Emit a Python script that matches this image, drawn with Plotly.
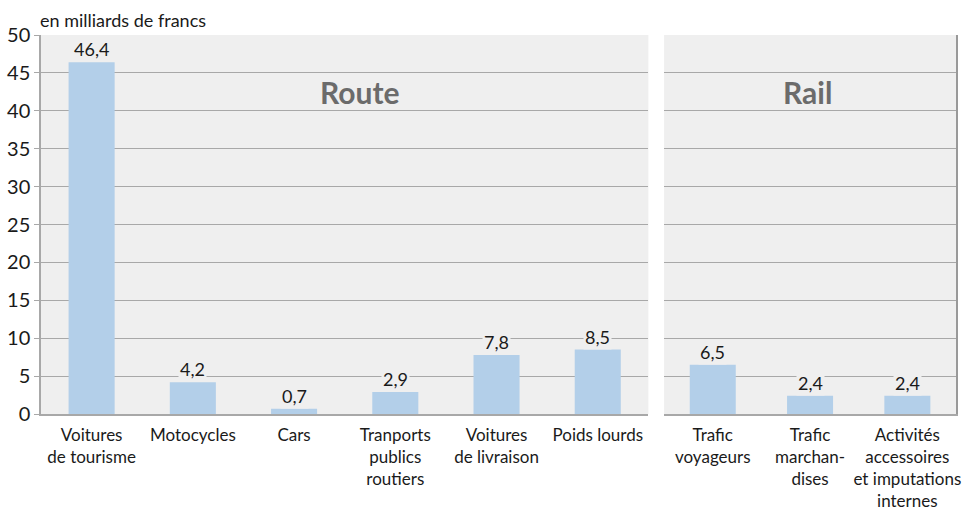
import plotly.graph_objects as go

# données
route_cats = ["Voitures<br>de tourisme", "Motocycles", "Cars", "Tranports<br>publics<br>routiers",
              "Voitures<br>de livraison", "Poids lourds"]
route_vals = [46.4, 4.2, 0.7, 2.9, 7.8, 8.5]
rail_cats = ["Trafic<br>voyageurs", "Trafic<br>marchan-<br>dises", "Activités<br>accessoires<br>et imputations<br>internes"]
rail_vals = [6.5, 2.4, 2.4]
y_ticks = [0, 5, 10, 15, 20, 25, 30, 35, 40, 45, 50]

_BG = "#efefef"
_BAR = "#b3cfe9"
_GRID = "#a8a8a8"
_TEXT = "#1a1a1a"
_FONT = "Lato, 'Open Sans', sans-serif"


def fmt(v):
    return f"{v:.1f}".replace(".", ",")


fig = go.Figure()
fig.add_trace(go.Bar(x=route_cats, y=route_vals, marker=dict(color=_BAR, line=dict(width=0)),
                     width=0.455, xaxis="x", yaxis="y", hoverinfo="skip"))
fig.add_trace(go.Bar(x=rail_cats, y=rail_vals, marker=dict(color=_BAR, line=dict(width=0)),
                     width=0.473, xaxis="x2", yaxis="y2", hoverinfo="skip"))

annots = []
for cats, vals, xr, yr in [(route_cats, route_vals, "x", "y"), (rail_cats, rail_vals, "x2", "y2")]:
    for c, v in zip(cats, vals):
        annots.append(dict(x=c, y=v, xref=xr, yref=yr, text=fmt(v), showarrow=False,
                           yanchor="bottom", yshift=0, bgcolor=_BG, borderpad=1,
                           font=dict(size=18, color=_TEXT, family=_FONT)))

annots += [
    dict(x=0.525, y=42.5, xref="x domain", yref="y", text="<b>Route</b>", showarrow=False,
         font=dict(size=30, color="#6b6b6b", family=_FONT)),
    dict(x=0.49, y=42.5, xref="x2 domain", yref="y2", text="<b>Rail</b>", showarrow=False,
         font=dict(size=30, color="#6b6b6b", family=_FONT)),
    # sous-titre (unité)
    dict(x=-0.003, y=1.0396, xref="paper", yref="paper", text="en milliards de francs",
         showarrow=False, xanchor="left", yanchor="middle",
         font=dict(size=18, color=_TEXT, family=_FONT)),
]

axis_common = dict(range=[0, 50], tickvals=y_ticks, showgrid=True, gridcolor=_GRID, gridwidth=1.3,
                   zeroline=False, fixedrange=True)
xaxis_common = dict(showline=True, linecolor=_GRID, linewidth=1.5, ticks="", tickangle=0,
                    ticklabelstandoff=5, automargin=False,
                    tickfont=dict(size=17, color=_TEXT), fixedrange=True)

fig.update_layout(
    width=963, height=511,
    margin=dict(l=41, r=7, t=35, b=97, autoexpand=False),
    paper_bgcolor="white",
    plot_bgcolor=_BG,
    showlegend=False,
    font=dict(family=_FONT, size=18, color=_TEXT),
    xaxis=dict(domain=[0, 0.6638], **xaxis_common),
    xaxis2=dict(domain=[0.681, 1], **xaxis_common),
    yaxis=dict(anchor="x", showline=True, linecolor=_GRID, linewidth=1.5, ticks="outside",
               ticklen=5, tickcolor=_GRID, automargin=False,
               tickfont=dict(size=20, color=_TEXT), **axis_common),
    yaxis2=dict(anchor="x2", side="right", showline=True, linecolor="#999999", linewidth=2,
                showticklabels=False, ticks="", automargin=False, **axis_common),
    annotations=annots,
)

# pas de marge de page autour de la figure
fig.write_html("out.html", config={"displayModeBar": False},
               post_script="document.body.style.margin='0px';document.body.style.overflow='hidden';")
